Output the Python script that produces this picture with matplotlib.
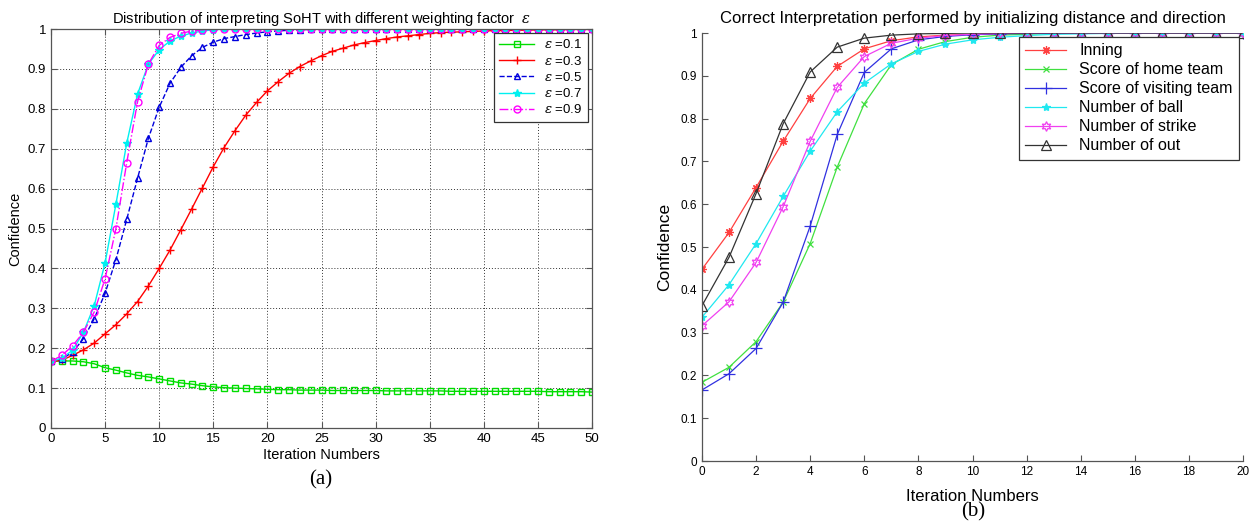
import numpy as np
import matplotlib.pyplot as plt

plt.rcParams.update({
    "font.family": ["Liberation Sans", "DejaVu Sans"],
    "mathtext.fontset": "dejavuserif",
    "axes.linewidth": 0.9,
    "xtick.direction": "in",
    "ytick.direction": "in",
})

# ---------------- data: panel (a) ----------------
iters_a = list(range(51))
eps_labels = ["0.1", "0.3", "0.5", "0.7", "0.9"]

eps01 = [0.167, 0.168, 0.168, 0.166, 0.161, 0.151, 0.145, 0.138, 0.132, 0.128,
         0.123, 0.118, 0.113, 0.110, 0.106, 0.103, 0.101, 0.100, 0.099, 0.098,
         0.097, 0.096, 0.096, 0.095, 0.095, 0.095, 0.094, 0.094, 0.094, 0.094,
         0.094, 0.093, 0.093, 0.093, 0.093, 0.093, 0.093, 0.092, 0.092, 0.092,
         0.092, 0.092, 0.092, 0.092, 0.092, 0.092, 0.091, 0.091, 0.091, 0.091,
         0.090]
eps03 = [0.166, 0.170, 0.182, 0.196, 0.213, 0.236, 0.259, 0.286, 0.317, 0.356,
         0.400, 0.446, 0.497, 0.549, 0.602, 0.655, 0.703, 0.745, 0.784, 0.816,
         0.845, 0.868, 0.889, 0.906, 0.920, 0.933, 0.944, 0.952, 0.960, 0.966,
         0.971, 0.976, 0.980, 0.983, 0.986, 0.989, 0.991, 0.992, 0.993, 0.994,
         0.995, 0.996, 0.996, 0.997, 0.997, 0.998, 0.998, 0.998, 0.999, 0.999,
         0.999]
eps05 = [0.167, 0.173, 0.190, 0.224, 0.274, 0.338, 0.422, 0.523, 0.626, 0.726,
         0.804, 0.864, 0.904, 0.933, 0.954, 0.967, 0.976, 0.981, 0.986, 0.990,
         0.993, 0.995, 0.997, 0.998, 0.999, 0.999, 1.0, 1.0, 1.0, 1.0,
         1.0, 1.0, 1.0, 1.0, 1.0, 1.0, 1.0, 1.0, 1.0, 1.0,
         1.0, 1.0, 1.0, 1.0, 1.0, 1.0, 1.0, 1.0, 1.0, 1.0, 1.0]
eps07 = [0.167, 0.175, 0.195, 0.240, 0.307, 0.414, 0.561, 0.714, 0.837, 0.912,
         0.948, 0.970, 0.982, 0.990, 0.995, 0.998, 1.0, 1.0, 1.0, 1.0,
         1.0, 1.0, 1.0, 1.0, 1.0, 1.0, 1.0, 1.0, 1.0, 1.0,
         1.0, 1.0, 1.0, 1.0, 1.0, 1.0, 1.0, 1.0, 1.0, 1.0,
         1.0, 1.0, 1.0, 1.0, 1.0, 1.0, 1.0, 1.0, 1.0, 1.0, 1.0]
eps09 = [0.167, 0.182, 0.206, 0.240, 0.291, 0.374, 0.500, 0.665, 0.818, 0.912,
         0.959, 0.979, 0.989, 0.995, 0.998, 0.999, 1.0, 1.0, 1.0, 1.0,
         1.0, 1.0, 1.0, 1.0, 1.0, 1.0, 1.0, 1.0, 1.0, 1.0,
         1.0, 1.0, 1.0, 1.0, 1.0, 1.0, 1.0, 1.0, 1.0, 1.0,
         1.0, 1.0, 1.0, 1.0, 1.0, 1.0, 1.0, 1.0, 1.0, 1.0, 1.0]

# ---------------- data: panel (b) ----------------
iters_b = list(range(21))
names_b = ["Inning", "Score of home team", "Score of visiting team",
           "Number of ball", "Number of strike", "Number of out"]

inning = [0.448, 0.534, 0.639, 0.747, 0.847, 0.922, 0.963, 0.982, 0.991, 0.995,
          0.997, 0.998, 0.999, 1.0, 1.0, 1.0, 1.0, 1.0, 1.0, 1.0, 1.0]
home = [0.184, 0.219, 0.279, 0.371, 0.508, 0.687, 0.835, 0.926, 0.962, 0.980,
        0.990, 0.995, 0.997, 0.999, 1.0, 1.0, 1.0, 1.0, 1.0, 1.0, 1.0]
visiting = [0.166, 0.204, 0.263, 0.371, 0.549, 0.763, 0.908, 0.963, 0.984, 0.992,
            0.996, 0.998, 0.999, 1.0, 1.0, 1.0, 1.0, 1.0, 1.0, 1.0, 1.0]
ball = [0.336, 0.412, 0.508, 0.618, 0.724, 0.816, 0.883, 0.928, 0.957, 0.974,
        0.984, 0.990, 0.994, 0.997, 0.998, 0.999, 1.0, 1.0, 1.0, 1.0, 1.0]
strike = [0.316, 0.372, 0.464, 0.594, 0.747, 0.873, 0.945, 0.976, 0.988, 0.994,
          0.997, 0.999, 1.0, 1.0, 1.0, 1.0, 1.0, 1.0, 1.0, 1.0, 1.0]
out = [0.363, 0.476, 0.625, 0.788, 0.909, 0.967, 0.988, 0.995, 0.998, 0.999,
       1.0, 1.0, 1.0, 1.0, 1.0, 1.0, 1.0, 1.0, 1.0, 1.0, 1.0]

W, H = 1254, 526
fig = plt.figure(figsize=(W / 100, H / 100), dpi=100)
spine_col = "#555555"

# ==========================================================
# Panel (a)
# ==========================================================
ax1 = fig.add_axes([51 / W, 1 - 428 / H, 541 / W, 399 / H])

styles_a = [
    dict(color="#00dd00", ls="-", marker="s", mfc="none", ms=5),
    dict(color="#ff0000", ls="-", marker="+", ms=6),
    dict(color="#0000dd", ls="--", marker="^", mfc="none", ms=5),
    dict(color="#00f0f0", ls="-", marker="*", ms=6),
    dict(color="#ff00ff", ls="-.", marker="o", mfc="none", ms=5),
]
for vals, lab, st in zip([eps01, eps03, eps05, eps07, eps09], eps_labels, styles_a):
    ax1.plot(iters_a, vals, lw=1.0, mew=1.0, label=r"$\varepsilon$ =" + lab, **st)

ax1.set_xlim(0, 50)
ax1.set_ylim(0, 1)
ax1.set_xticks(range(0, 51, 5))
ax1.set_xticklabels([str(v) for v in range(0, 51, 5)])
yt = [i / 10 for i in range(11)]
ax1.set_yticks(yt)
ax1.set_yticklabels(["0"] + ["0.%d" % i for i in range(1, 10)] + ["1"])
ax1.tick_params(labelsize=9.5, length=4, color=spine_col, top=True, right=True)
ax1.grid(True, ls=(0, (1, 2)), color="#333333", lw=0.7)
for sp in ax1.spines.values():
    sp.set_color(spine_col)

ax1.set_title(r"Distribution of interpreting SoHT with different weighting factor  $\varepsilon$",
              fontsize=10.5, pad=4)
ax1.set_xlabel("Iteration Numbers", fontsize=10.5, labelpad=2)
ax1.set_ylabel("Confidence", fontsize=10.5, labelpad=4)
leg1 = ax1.legend(loc="upper right", fontsize=9.5, numpoints=1, handlelength=2.6,
                  fancybox=False, framealpha=1, borderaxespad=0.3,
                  labelspacing=0.25, edgecolor="#333333")
leg1.get_frame().set_linewidth(0.9)
fig.text(321 / W, 1 - 480 / H, "(a)", family=["Liberation Serif"], fontsize=15,
         ha="center", va="center")

# ==========================================================
# Panel (b)
# ==========================================================
ax2 = fig.add_axes([702 / W, 1 - 461 / H, 541 / W, 428 / H])

styles_b = [
    dict(color="#ff4040", marker=(8, 2, 0), ms=6),
    dict(color="#40e040", marker="x", ms=5),
    dict(color="#3030e0", marker="+", ms=8),
    dict(color="#20e8f0", marker="*", ms=6),
    dict(color="#f040f0", marker=(6, 1, 0), mfc="none", ms=7),
    dict(color="#333333", marker="^", mfc="none", ms=7),
]
for vals, lab, st in zip([inning, home, visiting, ball, strike, out], names_b, styles_b):
    ax2.plot(iters_b, vals, lw=0.9, mew=0.9, label=lab, **st)

ax2.set_xlim(0, 20)
ax2.set_ylim(0, 1)
ax2.set_xticks(range(0, 21, 2))
ax2.set_xticklabels([str(v) for v in range(0, 21, 2)])
ax2.set_yticks(yt)
ax2.set_yticklabels(["0"] + ["0.%d" % i for i in range(1, 10)] + ["1"])
ax2.tick_params(labelsize=8.5, length=4, color=spine_col)
ax2.spines["top"].set_visible(False)
ax2.spines["right"].set_visible(False)
for sp in ax2.spines.values():
    sp.set_color(spine_col)

ax2.set_title("Correct Interpretation performed by initializing distance and direction",
              fontsize=12, pad=7)
ax2.set_xlabel("Iteration Numbers", fontsize=12, labelpad=8)
ax2.set_ylabel("Confidence", fontsize=12.5, labelpad=6)
leg2 = ax2.legend(loc="upper right", fontsize=11.5, numpoints=1, handlelength=2.6,
                  fancybox=False, framealpha=1, borderaxespad=0.25,
                  labelspacing=0.25, edgecolor="#333333")
leg2.get_frame().set_linewidth(0.9)
fig.text(973 / W, 1 - 512 / H, "(b)", family=["Liberation Serif"], fontsize=15,
         ha="center", va="center")

plt.savefig("out.png", dpi=100)
